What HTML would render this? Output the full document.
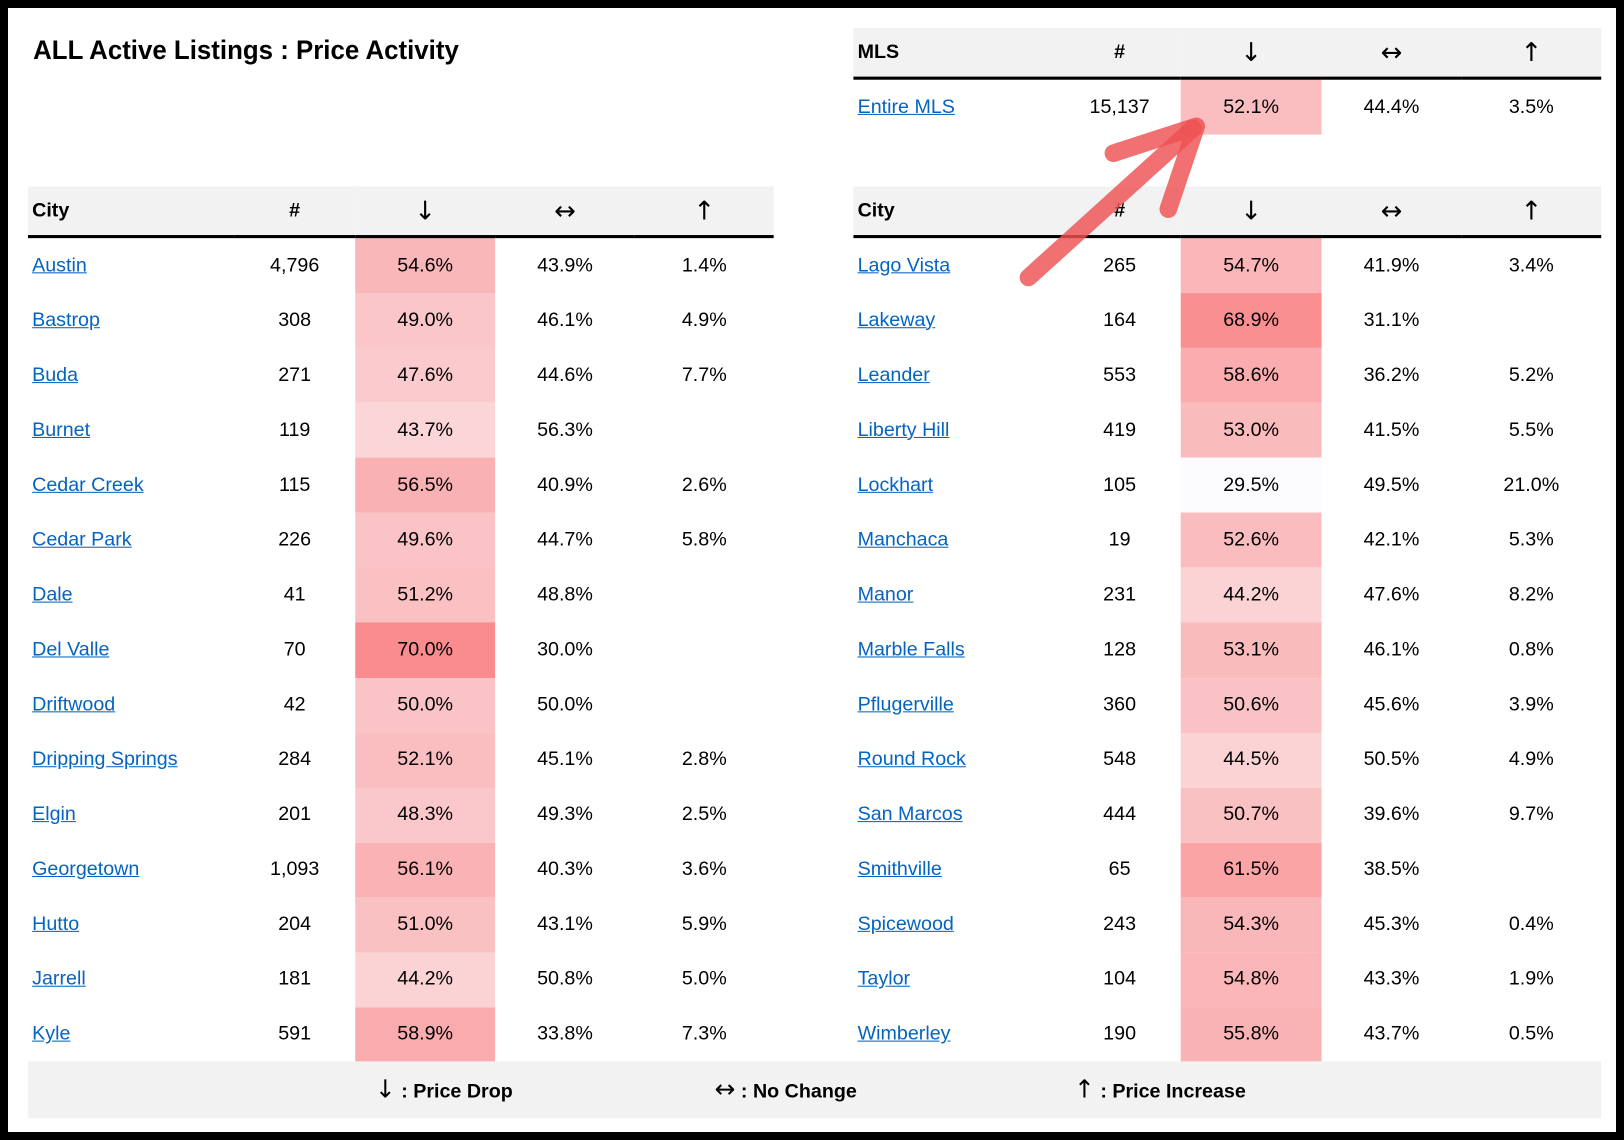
<!DOCTYPE html>
<html><head><meta charset="utf-8"><style>
html,body{margin:0;padding:0;background:#000;}
#frame{position:absolute;left:0;top:0;width:1624px;height:1140px;background:#000;overflow:hidden}
#inner{position:absolute;left:8px;top:8px;width:1608px;height:1124px;background:#fff;overflow:hidden}
#c{position:absolute;left:-8px;top:-8px;width:1568px;height:1101px;transform-origin:0 0;transform:scale(1.03571,1.03542);font-family:"Liberation Sans",sans-serif;color:#000}
.t{position:absolute;border-collapse:collapse;table-layout:fixed;font-size:19px}
.t td{padding:0;text-align:center;white-space:nowrap}
.t tr.h td{height:47px;background:#f2f2f2;font-weight:bold;border-bottom:3px solid #000;font-size:19px}
.t td.l{text-align:left;padding-left:4px}
.t tr.r td{height:53.07px}
a{color:#0563c1;text-decoration:underline}
.t tr.h td.ar{font-family:"DejaVu Sans",sans-serif;font-size:25px;font-weight:normal;line-height:1}
#title{position:absolute;left:32px;top:33px;font-size:26px;font-weight:bold;transform-origin:0 0;transform:scaleX(0.96)}
#leg{position:absolute;left:27px;top:1025px;width:1519px;height:55px;background:#f2f2f2;font-weight:bold;font-size:19px}
#leg>span{position:absolute;top:15px}
#leg .a{font-family:"DejaVu Sans",sans-serif;font-weight:normal;font-size:24px;line-height:1}
</style></head><body>
<div id="frame"><div id="inner"><div id="c">
<div id="title">ALL Active Listings : Price Activity</div>

<table class="t" style="left:27px;top:180px;width:720px">
<colgroup><col style="width:199px"><col style="width:117px"><col style="width:135px"><col style="width:135px"><col style="width:134px"></colgroup>
<tr class="h"><td class="l">City</td><td>#</td><td class="ar">↓</td><td class="ar">↔</td><td class="ar">↑</td></tr>
<tr class="r"><td class="l"><a>Austin</a></td><td>4,796</td><td style="background:rgb(250,183,185)">54.6%</td><td>43.9%</td><td>1.4%</td></tr>
<tr class="r"><td class="l"><a>Bastrop</a></td><td>308</td><td style="background:rgb(250,198,200)">49.0%</td><td>46.1%</td><td>4.9%</td></tr>
<tr class="r"><td class="l"><a>Buda</a></td><td>271</td><td style="background:rgb(250,202,204)">47.6%</td><td>44.6%</td><td>7.7%</td></tr>
<tr class="r"><td class="l"><a>Burnet</a></td><td>119</td><td style="background:rgb(251,213,215)">43.7%</td><td>56.3%</td><td></td></tr>
<tr class="r"><td class="l"><a>Cedar Creek</a></td><td>115</td><td style="background:rgb(250,177,179)">56.5%</td><td>40.9%</td><td>2.6%</td></tr>
<tr class="r"><td class="l"><a>Cedar Park</a></td><td>226</td><td style="background:rgb(250,196,198)">49.6%</td><td>44.7%</td><td>5.8%</td></tr>
<tr class="r"><td class="l"><a>Dale</a></td><td>41</td><td style="background:rgb(250,192,194)">51.2%</td><td>48.8%</td><td></td></tr>
<tr class="r"><td class="l"><a>Del Valle</a></td><td>70</td><td style="background:rgb(250,140,142)">70.0%</td><td>30.0%</td><td></td></tr>
<tr class="r"><td class="l"><a>Driftwood</a></td><td>42</td><td style="background:rgb(250,195,197)">50.0%</td><td>50.0%</td><td></td></tr>
<tr class="r"><td class="l"><a>Dripping Springs</a></td><td>284</td><td style="background:rgb(250,190,192)">52.1%</td><td>45.1%</td><td>2.8%</td></tr>
<tr class="r"><td class="l"><a>Elgin</a></td><td>201</td><td style="background:rgb(250,200,202)">48.3%</td><td>49.3%</td><td>2.5%</td></tr>
<tr class="r"><td class="l"><a>Georgetown</a></td><td>1,093</td><td style="background:rgb(250,178,180)">56.1%</td><td>40.3%</td><td>3.6%</td></tr>
<tr class="r"><td class="l"><a>Hutto</a></td><td>204</td><td style="background:rgb(250,193,195)">51.0%</td><td>43.1%</td><td>5.9%</td></tr>
<tr class="r"><td class="l"><a>Jarrell</a></td><td>181</td><td style="background:rgb(251,211,213)">44.2%</td><td>50.8%</td><td>5.0%</td></tr>
<tr class="r"><td class="l"><a>Kyle</a></td><td>591</td><td style="background:rgb(250,171,173)">58.9%</td><td>33.8%</td><td>7.3%</td></tr>
</table>

<table class="t" style="left:824px;top:27px;width:722px">
<colgroup><col style="width:198px"><col style="width:118px"><col style="width:136px"><col style="width:135px"><col style="width:135px"></colgroup>
<tr class="h"><td class="l" style="height:45px">MLS</td><td>#</td><td class="ar">↓</td><td class="ar">↔</td><td class="ar">↑</td></tr>
<tr class="r"><td class="l"><a>Entire MLS</a></td><td>15,137</td><td style="background:rgb(250,190,192)">52.1%</td><td>44.4%</td><td>3.5%</td></tr>
</table>

<table class="t" style="left:824px;top:180px;width:722px">
<colgroup><col style="width:198px"><col style="width:118px"><col style="width:136px"><col style="width:135px"><col style="width:135px"></colgroup>
<tr class="h"><td class="l">City</td><td>#</td><td class="ar">↓</td><td class="ar">↔</td><td class="ar">↑</td></tr>
<tr class="r"><td class="l"><a>Lago Vista</a></td><td>265</td><td style="background:rgb(250,182,184)">54.7%</td><td>41.9%</td><td>3.4%</td></tr>
<tr class="r"><td class="l"><a>Lakeway</a></td><td>164</td><td style="background:rgb(250,143,145)">68.9%</td><td>31.1%</td><td></td></tr>
<tr class="r"><td class="l"><a>Leander</a></td><td>553</td><td style="background:rgb(250,172,174)">58.6%</td><td>36.2%</td><td>5.2%</td></tr>
<tr class="r"><td class="l"><a>Liberty Hill</a></td><td>419</td><td style="background:rgb(250,187,189)">53.0%</td><td>41.5%</td><td>5.5%</td></tr>
<tr class="r"><td class="l"><a>Lockhart</a></td><td>105</td><td style="background:rgb(252,252,255)">29.5%</td><td>49.5%</td><td>21.0%</td></tr>
<tr class="r"><td class="l"><a>Manchaca</a></td><td>19</td><td style="background:rgb(250,188,190)">52.6%</td><td>42.1%</td><td>5.3%</td></tr>
<tr class="r"><td class="l"><a>Manor</a></td><td>231</td><td style="background:rgb(251,211,213)">44.2%</td><td>47.6%</td><td>8.2%</td></tr>
<tr class="r"><td class="l"><a>Marble Falls</a></td><td>128</td><td style="background:rgb(250,187,189)">53.1%</td><td>46.1%</td><td>0.8%</td></tr>
<tr class="r"><td class="l"><a>Pflugerville</a></td><td>360</td><td style="background:rgb(250,194,196)">50.6%</td><td>45.6%</td><td>3.9%</td></tr>
<tr class="r"><td class="l"><a>Round Rock</a></td><td>548</td><td style="background:rgb(251,211,213)">44.5%</td><td>50.5%</td><td>4.9%</td></tr>
<tr class="r"><td class="l"><a>San Marcos</a></td><td>444</td><td style="background:rgb(250,193,195)">50.7%</td><td>39.6%</td><td>9.7%</td></tr>
<tr class="r"><td class="l"><a>Smithville</a></td><td>65</td><td style="background:rgb(250,164,166)">61.5%</td><td>38.5%</td><td></td></tr>
<tr class="r"><td class="l"><a>Spicewood</a></td><td>243</td><td style="background:rgb(250,183,185)">54.3%</td><td>45.3%</td><td>0.4%</td></tr>
<tr class="r"><td class="l"><a>Taylor</a></td><td>104</td><td style="background:rgb(250,182,184)">54.8%</td><td>43.3%</td><td>1.9%</td></tr>
<tr class="r"><td class="l"><a>Wimberley</a></td><td>190</td><td style="background:rgb(250,179,181)">55.8%</td><td>43.7%</td><td>0.5%</td></tr>
</table>

<div id="leg">
<span style="left:335px"><span class="a">↓</span> : Price Drop</span>
<span style="left:663px"><span class="a">↔</span> : No Change</span>
<span style="left:1010px"><span class="a">↑</span> : Price Increase</span>
</div>

<svg style="position:absolute;left:0;top:0" width="1568" height="1101">
<g stroke="rgb(238,80,82)" stroke-opacity="0.82" stroke-width="17" stroke-linecap="round" stroke-linejoin="round" fill="none">
<path d="M993 268 L1152 124"/>
<path d="M1075 148 L1155 122 L1128 202"/>
</g>
</svg>
</div></div></div>
</body></html>
